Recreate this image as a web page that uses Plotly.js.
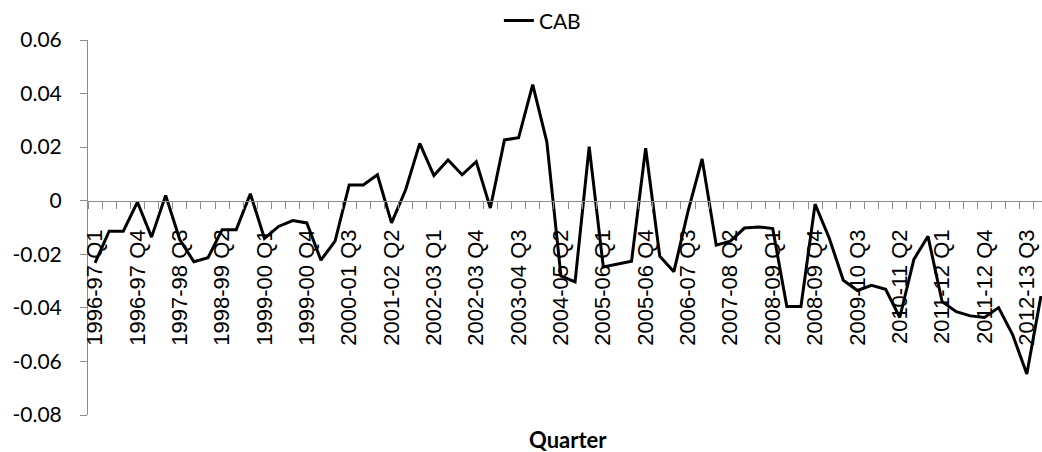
<!DOCTYPE html>
<html>
<head>
<meta charset="utf-8">
<script src="https://cdn.plot.ly/plotly-3.0.1.min.js"></script>
<style>
html,body{margin:0;padding:0;background:#fff;overflow:hidden;width:1042px;height:452px;}
#chart{width:1048px;height:452px;}
</style>
</head>
<body>
<div id="chart"></div>
<script>
// Quarter categories (1996-97 Q1 .. 2012-13 Q4)
const years = ["1996-97","1997-98","1998-99","1999-00","2000-01","2001-02","2002-03","2003-04",
               "2004-05","2005-06","2006-07","2007-08","2008-09","2009-10","2010-11","2011-12","2012-13"];
const quarterNames = ["Q1","Q2","Q3","Q4"];
const quarters = [];
years.forEach(y => quarterNames.forEach(q => quarters.push(y + " " + q)));

// CAB series values
const cab = [-0.0232, -0.0114, -0.0114, -0.0005, -0.0136, 0.0020, -0.0145, -0.0228,
             -0.0213, -0.0108, -0.0108, 0.0026, -0.0141, -0.0096, -0.0074, -0.0083,
             -0.0222, -0.0151, 0.0059, 0.0059, 0.0097, -0.0083, 0.0041, 0.0214,
             0.0094, 0.0152, 0.0097, 0.0146, -0.0027, 0.0227, 0.0235, 0.0433,
             0.0220, -0.0281, -0.0303, 0.0202, -0.0247, -0.0236, -0.0226, 0.0196,
             -0.0207, -0.0265, -0.0040, 0.0156, -0.0166, -0.0151, -0.0102, -0.0098,
             -0.0104, -0.0395, -0.0395, -0.0013, -0.0139, -0.0297, -0.0335, -0.0316,
             -0.0331, -0.0436, -0.0219, -0.0133, -0.0377, -0.0414, -0.0430, -0.0436,
             -0.0399, -0.0501, -0.0647, -0.0356];

// Y tick values and labels
const yTickVals = [0.06, 0.04, 0.02, 0, -0.02, -0.04, -0.06, -0.08];
const yTickText = ["0.06", "0.04", "0.02", "0", "-0.02", "-0.04", "-0.06", "-0.08"];
const labelStep = 3;

const xIdx = quarters.map((_, i) => i);
const xTickVals = xIdx.filter(i => i % labelStep === 0);
const xTickText = xTickVals.map(i => quarters[i]);

const yMin = Math.min(...yTickVals), yMax = Math.max(...yTickVals);
const axisPos = (0 - yMin) / (yMax - yMin);
const grey = "#8c8c8c";

const trace = {
  x: xIdx, y: cab, text: quarters, type: "scatter", mode: "lines", name: "CAB",
  line: {color: "#000000", width: 3},
  hovertemplate: "%{text}: %{y}<extra></extra>"
};

const layout = {
  width: 1048, height: 452,
  margin: {l: 88, r: 0, t: 38, b: 37, pad: 0},
  paper_bgcolor: "#ffffff", plot_bgcolor: "#ffffff",
  showlegend: true,
  legend: {orientation: "h", x: 0.428, xanchor: "left", y: 1.051, yanchor: "middle",
           font: {family: "Lato, sans-serif", size: 21, color: "#000"}, bgcolor: "rgba(0,0,0,0)"},
  xaxis: {
    type: "linear", range: [-0.5, quarters.length - 0.5],
    anchor: "free", position: axisPos,
    showline: true, linecolor: grey, linewidth: 1,
    showgrid: false, zeroline: false,
    tickmode: "array", tickvals: xTickVals, ticktext: xTickText,
    ticks: "", tickangle: -90, ticklabelstandoff: 19,
    tickfont: {family: "Liberation Sans, Arial, sans-serif", size: 22, color: "#000"},
    minor: {tickmode: "linear", tick0: -0.5, dtick: 1, ticks: "outside", ticklen: 7,
            tickcolor: grey, tickwidth: 1, showgrid: false}
  },
  yaxis: {
    range: [yMin, yMax], domain: [0, 1],
    showline: true, linecolor: grey, linewidth: 1,
    showgrid: false, zeroline: false,
    tickmode: "array", tickvals: yTickVals, ticktext: yTickText,
    ticks: "outside", ticklen: 7, tickcolor: grey, ticklabelstandoff: 14,
    tickfont: {family: "Lato, sans-serif", size: 21, color: "#000"}
  },
  annotations: [{
    text: "<b>Quarter</b>", xref: "paper", yref: "paper", x: 0.5, y: -0.025,
    xanchor: "center", yanchor: "top", showarrow: false,
    font: {family: "Lato, sans-serif", size: 22, color: "#000"}
  }]
};

Plotly.newPlot("chart", [trace], layout, {displayModeBar: false, staticPlot: true});
</script>
</body>
</html>
